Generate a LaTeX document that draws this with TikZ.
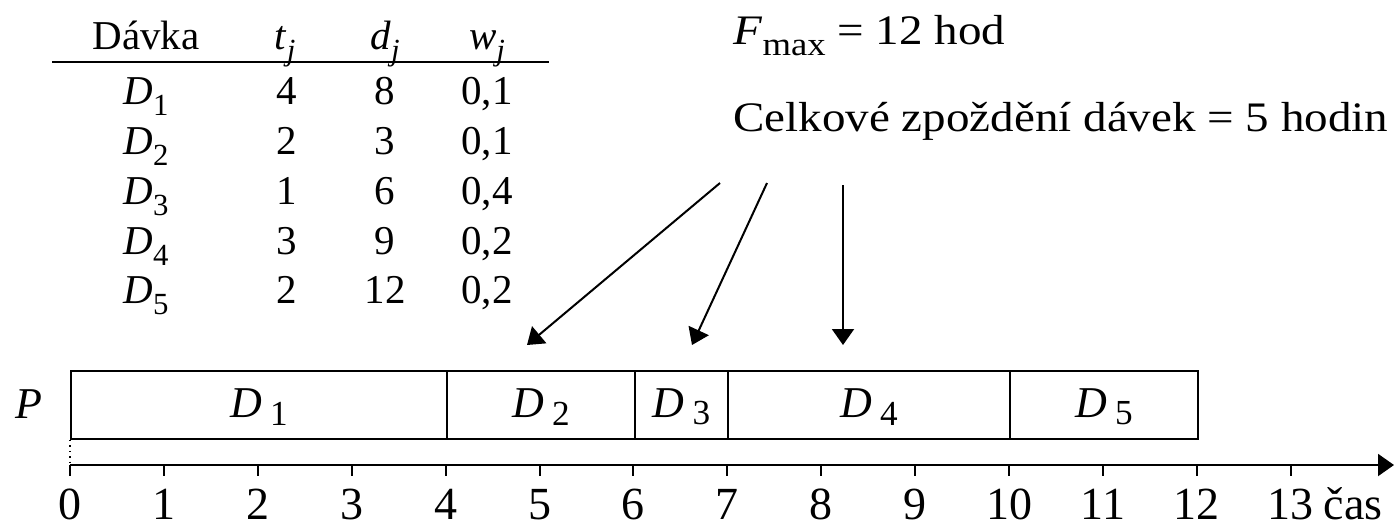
\documentclass[tikz,border=0pt]{standalone}
\usepackage{graphicx}
\usepackage{fontspec}
\setmainfont{Liberation Serif}
\usetikzlibrary{arrows.meta}
\newcommand\Sb[2]{#1\raisebox{-0.27em}{\scalebox{0.75}{#2}}}
\newcommand\Bs[2]{#1\hspace{0.18em}\raisebox{-0.17em}{\scalebox{0.8}{#2}}}
\newcommand\Wide[1]{\scalebox{1.12}[1]{#1}}
\begin{document}
\begin{tikzpicture}[x=0.5pt,y=-0.5pt,
  tab/.style={anchor=base,inner sep=0pt,font=\fontsize{20.5}{24}\selectfont},
  ax/.style={anchor=base,inner sep=0pt,font=\fontsize{23}{26}\selectfont},
  barlab/.style={inner sep=0pt,font=\fontsize{22}{26}\selectfont},
  info/.style={anchor=base west,inner sep=0pt,font=\fontsize{21}{24}\selectfont},
  job/.style={draw,line width=1pt,minimum height=34pt,inner sep=0pt,anchor=north west},
  arr/.style={line width=1pt,-{Triangle[length=8pt,width=11pt]}}]
\useasboundingbox (0,0) rectangle (1394,527);
% table
\node[tab] (h0) at (146,49) {Dávka};
\node[tab] (h1) at (285,49) {\Sb{\textit{t}}{\textit{j}}};
\node[tab] (h2) at (385,49) {\Sb{\textit{d}}{\textit{j}}};
\node[tab] (h3) at (487,49) {\Sb{\textit{w}}{\textit{j}}};
\coordinate (rl) at (52,62);
\coordinate (rr) at (549,62);
\draw[line width=1pt] (rl) -- (rr);
\foreach \i/\t/\d/\w/\y in {1/4/8/{0,1}/104,2/2/3/{0,1}/154,3/1/6/{0,4}/204,4/3/9/{0,2}/254,5/2/12/{0,2}/303}{
  \node[tab] (r\i a) at (146,\y) {\Sb{\textit{D}}{\i}};
  \node[tab] (r\i b) at (287,\y) {\t};
  \node[tab] (r\i c) at (385,\y) {\d};
  \node[tab] (r\i d) at (487,\y) {\w};
}
% info
\node[info] (fmax) at (733,44) {\Wide{\textit{F}\raisebox{-0.28em}{\scalebox{0.78}{max}} = 12 hod}};
\node[info] (celk) at (733,131) {\Wide{Celkové zpoždění dávek = 5 hodin}};
% arrows
\coordinate (a1s) at (720,183); \coordinate (a1e) at (527,345);
\coordinate (a2s) at (767,183); \coordinate (a2e) at (692,345);
\coordinate (a3s) at (843,185); \coordinate (a3e) at (843,345);
\draw[arr] (a1s) -- (a1e);
\draw[arr] (a2s) -- (a2e);
\draw[arr] (a3s) -- (a3e);
% gantt bars
\node[job,minimum width=188pt] (D1) at (70,370) {};
\node[job,minimum width=94pt] (D2) at (446,370) {};
\node[job,minimum width=46.5pt] (D3) at (634,370) {};
\node[job,minimum width=141pt] (D4) at (727,370) {};
\node[job,minimum width=94pt] (D5) at (1009,370) {};
\foreach \i in {1,...,5}{\node[barlab] (L\i) at ([yshift=-1pt]D\i.center) {\Bs{\textit{D}}{\i}};}
\node[inner sep=0pt,font=\fontsize{22}{26}\selectfont\itshape] (P) at (29,404) {P};
% axis
\coordinate (ax0) at (70,465);
\coordinate (axe) at (1394,465);
\draw[line width=1pt,-{Triangle[length=8pt,width=11pt]}] (ax0) -- (axe);
\draw[dotted,line width=0.7pt] (D1.south west) -- (ax0);
\foreach \k in {0,...,13}{
  \draw[line width=1pt] (70+93.9*\k,465) -- (70+93.9*\k,476);
  \node[ax] (n\k) at (70+93.9*\k,519) {\k};
}
\node[ax] (cas) at (1353,519) {čas};
\end{tikzpicture}
\end{document}
